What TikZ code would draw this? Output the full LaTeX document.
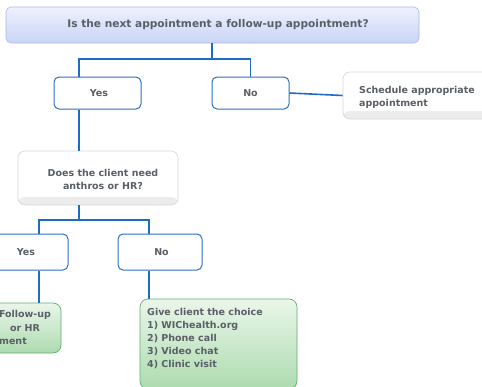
\documentclass[tikz,border=0pt]{standalone}
\usepackage{fontspec}
\setmainfont{DejaVu Sans}
\definecolor{txt}{HTML}{5A5F66}
\definecolor{lnk}{HTML}{1F6CC4}
\definecolor{bbd}{HTML}{2A6FC6}
\definecolor{gbd}{HTML}{D6D6D6}
\definecolor{gstrip}{HTML}{ECECEC}
\definecolor{tbd}{HTML}{A9B9E2}
\definecolor{ttop}{HTML}{EEF1FD}
\definecolor{tbot}{HTML}{C9D5F7}
\definecolor{grbd}{HTML}{5FAF6E}
\definecolor{grtop}{HTML}{EAF6EA}
\definecolor{grbot}{HTML}{ADDBAF}
\tikzset{
  every node/.style={font=\bfseries\fontsize{9.5}{13}\selectfont, text=txt},
  link/.style={draw=lnk, line width=1.6pt},
  titlebox/.style={draw=tbd, line width=0.6pt, rounded corners=5pt, top color=ttop, bottom color=tbot, minimum width=413pt, minimum height=36pt, inner sep=0pt, font=\bfseries\fontsize{10.6}{13}\selectfont},
  answer/.style={draw=bbd, line width=1pt, fill=white, rounded corners=5pt, minimum height=32pt, inner sep=0pt},
  graybox/.style={draw=gbd, line width=0.6pt, fill=white, rounded corners=7pt, inner sep=0pt,
    path picture={\fill[gstrip] ([yshift=8pt]path picture bounding box.south west) rectangle (path picture bounding box.south east);}},
  greenbox/.style={draw=grbd, line width=0.7pt, rounded corners=8pt, top color=grtop, bottom color=grbot, inner sep=0pt},
  plain/.style={inner sep=0pt}
}
\begin{document}
\begin{tikzpicture}[x=1pt,y=-1pt]
\useasboundingbox (0,0) rectangle (482,386);
% nodes
\node[titlebox] (q1) at (212.5,25) {\hspace*{11pt}Is the next appointment a follow-up appointment?};
\node[answer, minimum width=87pt] (yes1) at (97.5,93) {\hspace*{3pt}Yes};
\node[answer, minimum width=77pt] (no1) at (250.5,93) {No};
\node[graybox, minimum width=146pt, minimum height=47pt] (sched) at (416,95.5) {};
\node[plain, anchor=west, align=left] (schedt) at (359,97) {Schedule appropriate\\appointment};
\node[graybox, minimum width=160pt, minimum height=54pt] (q2) at (98,178) {};
\node[plain, align=center] (q2t) at (103,179) {Does the client need\\anthros or HR?};
\node[answer, minimum width=84pt, minimum height=36pt] (yes2) at (26,252) {Yes};
\node[answer, minimum width=84pt, minimum height=36pt] (no2) at (160,252) {\hspace*{3pt}No};
\node[greenbox, minimum width=130pt, minimum height=50pt] (fu) at (-4,328) {};
\node[plain] (fu1) at (25,315) {Follow-up};
\node[plain] (fu2) at (25,328) {or HR};
\node[plain, anchor=east] (fu3) at (27,341) {ment};
\node[greenbox, minimum width=157pt, minimum height=90pt] (choice) at (218.5,344) {};
\node[plain, anchor=north west, align=left] (choicet) at (147,308) {Give client the choice\\1) WIChealth.org\\2) Phone call\\3) Video chat\\4) Clinic visit};
% connectors
\coordinate (j1) at (212,59);
\coordinate (j2) at (79,220);
\draw[link] (q1.south -| j1) -- (j1) -| (79,77)  (j1) -| (no1.north);
\draw[link] (yes1.south -| j2) -- (q2.north -| j2);
\draw[link] (no1.east) -- (sched.west);
\draw[link] (q2.south -| j2) -- (j2) -| (yes2.north -| 39,0) (j2) -| (no2.north -| 149,0);
\draw[link] (yes2.south -| 39,0) -- (fu.north -| 39,0);
\draw[link] (no2.south -| 149,0) -- (choice.north -| 149,0);
\end{tikzpicture}
\end{document}
